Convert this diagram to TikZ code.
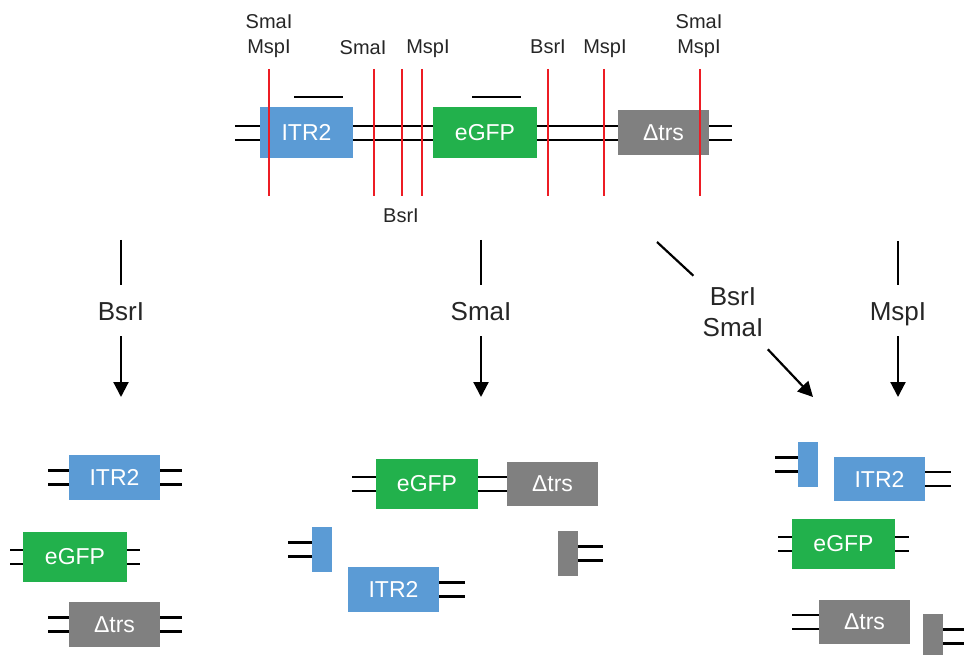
\documentclass[tikz,border=0pt]{standalone}
\usepackage{fontspec}
\setmainfont{Liberation Sans}
\usepackage{tikz}
\usetikzlibrary{arrows.meta,positioning}
\definecolor{itrblue}{RGB}{91,155,213}
\definecolor{gfpgreen}{RGB}{34,177,76}
\definecolor{trsgray}{RGB}{128,128,128}
\definecolor{cutred}{RGB}{237,28,36}
\definecolor{labelgray}{RGB}{38,38,38}
\tikzstyle{gene} = [rectangle, inner sep=0pt, outer sep=0pt, minimum width=91pt, minimum height=45pt, text=white, font=\fontsize{23}{27}\selectfont]
\tikzstyle{itr} = [gene, fill=itrblue]
\tikzstyle{gfp} = [gene, fill=gfpgreen, minimum width=104pt, minimum height=50pt]
\tikzstyle{trs} = [gene, fill=trsgray]
\tikzstyle{dna} = [draw=black, line width=2.8pt, double=white, double distance=11.2pt]
\tikzstyle{cut} = [draw=cutred, line width=2.4pt]
\tikzstyle{site} = [inner sep=0pt, anchor=north, align=center, text=labelgray, font=\fontsize{20}{25.5}\selectfont]
\tikzstyle{enzyme} = [inner xsep=10pt, inner ysep=16pt, text height=19pt, text depth=0pt, text=labelgray, font=\fontsize{26}{31}\selectfont]
\tikzstyle{enzymes} = [inner xsep=10pt, inner ysep=12pt, align=center, text=labelgray, font=\fontsize{26}{31}\selectfont]
\tikzstyle{stem} = [draw=black, line width=2.2pt]
\tikzstyle{digest} = [stem, -{Triangle[length=15pt,width=15pt]}]

\begin{document}
\begin{tikzpicture}[x=1pt, y=-1pt]
\useasboundingbox (0,0) rectangle (964,655);

% Construct
\coordinate (dnaL) at (235,133);
\coordinate (dnaR) at (732,133);
\draw[dna] (dnaL) -- (dnaR);
\node[itr, minimum width=93pt, minimum height=51pt] (itr) at (306.5,132.5) {ITR2};
\node[gfp, minimum height=51pt] (gfp) at (485,132.5) {eGFP};
\node[trs] (trs) at (663.5,132.5) {Δtrs};

% Probes
\draw[line width=2.8pt] (294,97) -- (343,97);
\draw[line width=2.8pt] (472,97) -- (521,97);

% Cut sites
\foreach \x in {269,374,402,422,548,604,700}
  \draw[cut] (\x,69) -- (\x,196);

% Site labels
\node[site] (site1) at (269,14) {SmaI\\MspI};
\node[site] (site2) at (363,40) {SmaI};
\node[site] (site3) at (428,40) {MspI};
\node[site] (site4) at (548,40) {BsrI};
\node[site] (site5) at (605,40) {MspI};
\node[site] (site6) at (699,14) {SmaI\\MspI};
\node[site] (site7) at (401,209) {BsrI};

% Digests
\coordinate (fromB) at (121,240);
\coordinate (toB) at (121,397);
\node[enzyme] (enzB) at (121,310.5) {BsrI};
\draw[stem] (fromB) -- (enzB);
\draw[digest] (enzB) -- (toB);

\coordinate (fromS) at (481,240);
\coordinate (toS) at (481,397);
\node[enzyme] (enzS) at (481,310.5) {SmaI};
\draw[stem] (fromS) -- (enzS);
\draw[digest] (enzS) -- (toS);

\coordinate (fromBS) at (657,242);
\coordinate (toBS) at (813,397);
\node[enzymes] (enzBS) at (733,312.5) {BsrI\\SmaI};
\draw[stem] (fromBS) -- (enzBS);
\draw[digest] (enzBS) -- (toBS);

\coordinate (fromM) at (898,241);
\coordinate (toM) at (898,397);
\node[enzyme] (enzM) at (898,310.5) {MspI};
\draw[stem] (fromM) -- (enzM);
\draw[digest] (enzM) -- (toM);

% BsrI products
\node[itr] (itrB) at (114.5,477.5) {ITR2};
\node[gfp] (gfpB) at (75,557) {eGFP};
\node[trs] (trsB) at (114.5,624.5) {Δtrs};
\coordinate[left=21pt of itrB] (itrBw);
\coordinate[right=22pt of itrB] (itrBe);
\coordinate[left=13pt of gfpB] (gfpBw);
\coordinate[right=13pt of gfpB] (gfpBe);
\coordinate[left=21pt of trsB] (trsBw);
\coordinate[right=22pt of trsB] (trsBe);
\draw[dna] (itrB) -- (itrBw);
\draw[dna] (itrB) -- (itrBe);
\draw[dna] (gfpB) -- (gfpBw);
\draw[dna] (gfpB) -- (gfpBe);
\draw[dna] (trsB) -- (trsBw);
\draw[dna] (trsB) -- (trsBe);

% SmaI products
\node[gfp, minimum width=102pt] (gfpS) at (427,484) {eGFP};
\node[trs, minimum height=44pt] (trsS) at (552.5,484) {Δtrs};
\node[itr] (itrS) at (393.5,589.5) {ITR2};
\node[itr, minimum width=20pt] (endS1) at (322,549.5) {};
\node[trs, minimum width=20pt] (endS2) at (568,553.5) {};
\coordinate[left=24pt of gfpS] (gfpSw);
\coordinate[left=24pt of endS1] (endS1w);
\coordinate[right=26pt of itrS] (itrSe);
\coordinate[right=25pt of endS2] (endS2e);
\draw[dna] (gfpS) -- (gfpSw);
\draw[dna] (gfpS) -- (trsS);
\draw[dna] (endS1) -- (endS1w);
\draw[dna] (itrS) -- (itrSe);
\draw[dna] (endS2) -- (endS2e);

% MspI products
\node[itr, minimum width=20pt] (endM1) at (808,464.5) {};
\node[itr, minimum height=44pt] (itrM) at (879.5,479) {ITR2};
\node[gfp, minimum width=103pt] (gfpM) at (843.5,544) {eGFP};
\node[trs, minimum height=44pt] (trsM) at (864.5,622) {Δtrs};
\node[trs, minimum width=20pt] (endM2) at (933,636.5) {};
\coordinate[left=23pt of endM1] (endM1w);
\coordinate[right=26pt of itrM] (itrMe);
\coordinate[left=14pt of gfpM] (gfpMw);
\coordinate[right=14pt of gfpM] (gfpMe);
\coordinate[left=27pt of trsM] (trsMw);
\coordinate[right=21pt of endM2] (endM2e);
\draw[dna] (endM1) -- (endM1w);
\draw[dna] (itrM) -- (itrMe);
\draw[dna] (gfpM) -- (gfpMw);
\draw[dna] (gfpM) -- (gfpMe);
\draw[dna] (trsM) -- (trsMw);
\draw[dna] (endM2) -- (endM2e);
\end{tikzpicture}
\end{document}
